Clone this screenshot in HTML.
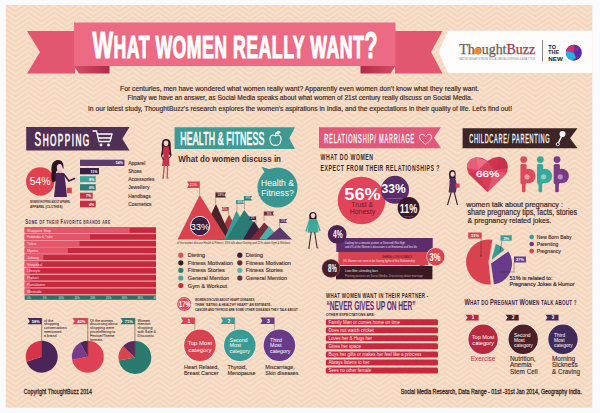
<!DOCTYPE html>
<html><head><meta charset="utf-8">
<style>
html,body{margin:0;padding:0;background:#f9fbfe;width:600px;height:413px;overflow:hidden}
svg{display:block}
text{font-family:"Liberation Sans",sans-serif}
.c{font-family:"Liberation Sans",sans-serif;font-weight:bold}
</style></head><body>
<svg width="600" height="413" viewBox="0 0 600 413">
<defs>
<pattern id="chev" x="2.5" y="5" width="26" height="5" patternUnits="userSpaceOnUse">
<rect width="26" height="5" fill="#f4d6be"/>
<polyline points="-13,9 0,0 13,9 26,0 39,9" fill="none" stroke="#f8e1cd" stroke-width="1.7"/>
<polyline points="-13,4 0,-5 13,4 26,-5 39,4" fill="none" stroke="#f8e1cd" stroke-width="1.7"/>
<polyline points="-13,14 0,5 13,14 26,5 39,14" fill="none" stroke="#f8e1cd" stroke-width="1.7"/>
</pattern>
</defs>
<rect x="0" y="0" width="600" height="413" fill="#f9fbfe"/>
<rect x="5.8" y="5" width="586.5" height="402.7" fill="url(#chev)"/>

<!-- TITLE BANNER -->
<polygon points="27,31 75,31 75,73.5 27,73.5 40,52" fill="#e3566f"/>
<polygon points="395,31 442.5,31 431,52 442.5,73.5 395,73.5" fill="#e3566f"/>
<linearGradient id="fl" x1="0" x2="1" y1="0" y2="0"><stop offset="0" stop-color="#d64d66"/><stop offset="1" stop-color="#b02c48"/></linearGradient><linearGradient id="fr" x1="1" x2="0" y1="0" y2="0"><stop offset="0" stop-color="#d64d66"/><stop offset="1" stop-color="#b02c48"/></linearGradient><polygon points="74,66 109.5,66 109.5,73.5 79,73.5" fill="url(#fl)"/>
<polygon points="395.5,66 360.5,66 360.5,73.5 390.5,73.5" fill="url(#fr)"/>
<rect x="74" y="22.5" width="321.5" height="43.5" fill="#ec6a83"/>
<text transform="scale(0.58,1)" x="159.48" y="57.9" class="c" fill="#fff" stroke="#fff" stroke-width="1.2" font-size="37.5" textLength="491.38" lengthAdjust="spacing">W<tspan font-size="30.5">HAT WOMEN REALLY WANT</tspan>?</text>

<!-- LOGO BOX -->
<polygon points="448,30.8 592.3,30.8 592.3,73 448,73 438.5,52" fill="#fefdfc"/>
<text x="459.2" y="54.2" style="font-family:'Liberation Serif',serif" font-size="13.6" fill="#6a5d55" stroke="#6a5d55" stroke-width="0.25" textLength="76" lengthAdjust="spacingAndGlyphs">Thought<tspan fill="#9a3a4a" stroke="#9a3a4a">Buzz</tspan></text>
<circle cx="477.4" cy="51.2" r="3.3" fill="#f08a2a"/>
<text x="459.2" y="60.3" font-size="2.7" fill="#8a8a90" textLength="76" lengthAdjust="spacingAndGlyphs">NATIVE <tspan fill="#5a8ac0">INSIGHTS FROM</tspan> SOCIAL MEDIA LISTENING &amp; ANALYTICS</text>
<rect x="542.2" y="40" width="0.8" height="21.3" fill="#666"/>
<text x="548.3" y="48.9" class="c" font-size="5.4" fill="#1a1a1a" textLength="7.8" lengthAdjust="spacingAndGlyphs">TO</text>
<text x="548.3" y="54.3" class="c" font-size="5.4" fill="#1a1a1a" textLength="10.8" lengthAdjust="spacingAndGlyphs">THE</text>
<text x="548.3" y="60.6" class="c" font-size="5.4" fill="#1a1a1a" textLength="14.6" lengthAdjust="spacingAndGlyphs">NEW</text>
<circle cx="573.8" cy="52.7" r="8" fill="#5a2aa8"/>
<path d="M573.8,52.7 L566,51 A8,8 0 0 1 574,44.7 Z" fill="#d2306e"/>
<path d="M573.8,52.7 L574,44.7 A8,8 0 0 1 580.5,48.5 Z" fill="#7a2aa0"/>
<path d="M573.8,52.7 L566,51 A8,8 0 0 0 572,60.5 L576,58 Z" fill="#22b2dc"/>
<!-- INTRO -->
<g font-size="7" fill="#3c2a28" stroke="#3c2a28" stroke-width="0.18">
<text x="120" y="91" textLength="359" lengthAdjust="spacingAndGlyphs">For centuries, men have wondered what women really want? Apparently even women don't know what they really want.</text>
<text x="127.5" y="100.3" textLength="345" lengthAdjust="spacingAndGlyphs">Finally we have an answer, as Social Media speaks about what women of 21st century really discuss on Social Media.</text>
<text x="88" y="111.4" textLength="424" lengthAdjust="spacingAndGlyphs">In our latest study, ThoughtBuzz's research explores the women's aspirations in India, and the expectations in their quality of life.  Let's find out!</text>
</g>

<!-- SECTION HEADERS -->
<polygon points="26.2,127.1 129.5,127.1 122.3,138.8 129.5,150.4 26.2,150.4" fill="#4f2f54"/>
<text transform="scale(0.5,1)" x="69.20" y="146.2" fill="#fff" stroke="#fff" stroke-width="0.7" font-size="20" textLength="109.20" lengthAdjust="spacing">S<tspan font-size="16.5">HOPPING</tspan></text>

<polygon points="174.6,127.3 295,127.3 289.3,138.2 295,149.1 174.6,149.1" fill="#3e9a93"/>
<text transform="scale(0.5,1)" x="360.60" y="144.6" fill="#fff" stroke="#fff" stroke-width="0.7" font-size="17.5" textLength="168.00" lengthAdjust="spacing">HEALTH &amp; FITNESS</text>

<polygon points="319,127.3 441,127.3 434,137.8 441,148.3 319,148.3" fill="#e0587a"/>
<text transform="scale(0.42,1)" x="772.14" y="142.7" fill="#fff" stroke="#fff" stroke-width="0.35" font-size="13.2" textLength="214.29" lengthAdjust="spacing">RELATIONSHIP/ MARRIAGE</text>

<polygon points="462.6,128.2 577.5,128.2 570,138.2 577.5,148.3 462.6,148.3" fill="#3d2426"/>
<text transform="scale(0.42,1)" x="1117.14" y="142.7" fill="#fff" stroke="#fff" stroke-width="0.35" font-size="13.2" textLength="191.43" lengthAdjust="spacing">CHILDCARE/ PARENTING</text>

<g stroke="#fff" stroke-width="1.3" fill="none" stroke-linecap="round" stroke-linejoin="round"><path d="M93,131 L96.5,131 L99,141.5 L110,141.5 L112,134 L97.5,134"/><path d="M98.5,138 L111,138"/></g>
<circle cx="101" cy="145" r="1.4" fill="#fff" />
<circle cx="108.5" cy="145" r="1.4" fill="#fff" />
<circle cx="40.2" cy="181.5" r="14.2" fill="#e1404f" />
<text x="40.2" y="185.3" font-size="10.5" fill="#fff" text-anchor="middle" >54%</text>
<path d="M58,160 C53,160 51,165 51.5,171 C51.5,176 51,180 52.5,182.5 L56,181 L56,172 L61,166 L63.5,169 C64,163 62,160 58,160 Z" fill="#2a1422"/>
<ellipse cx="59.6" cy="167.6" rx="2.8" ry="3.6" fill="#f2cccc"/>
<path d="M57.5,170.5 L62,170.5 L62.5,174 L57,174 Z" fill="#e8b0c0"/>
<path d="M55.5,173 L64,173 L65.5,183 L67,197 L54,197 L55.5,183 Z" fill="#4a2558"/>
<path d="M64,174.5 L69,181 L74.5,178.5" stroke="#3a1f42" stroke-width="1.6" fill="none" stroke-linecap="round"/>
<rect x="66.8" y="187.7" width="5" height="5.5" fill="#d9434f" />
<text x="30" y="203" font-size="3.3" fill="#3c2a28" textLength="40.4" lengthAdjust="spacingAndGlyphs" font-weight="bold" >WOMEN SHOPPING ABOUT APPAREL</text>
<text x="30" y="207.6" font-size="3.3" fill="#3c2a28" textLength="32.6" lengthAdjust="spacingAndGlyphs" font-weight="bold" >APPAREL (CLOTHES)</text>
<rect x="80" y="159.7" width="44.5" height="6.3" fill="#5d3d6e" />
<text x="123.0" y="164.4" font-size="3.6" fill="#fff" font-weight="bold" text-anchor="end" >54%</text>
<text x="128.2" y="164.8" font-size="5.6" fill="#3c2a28" textLength="17.3" lengthAdjust="spacingAndGlyphs" stroke="#3c2a28" stroke-width="0.12">Apparel</text>
<rect x="80" y="168" width="19" height="6.3" fill="#3a1f42" />
<text x="97.5" y="172.70000000000002" font-size="3.6" fill="#fff" font-weight="bold" text-anchor="end" >11%</text>
<text x="128.2" y="173.10000000000002" font-size="5.6" fill="#3c2a28" textLength="13.5" lengthAdjust="spacingAndGlyphs" stroke="#3c2a28" stroke-width="0.12">Shoes</text>
<rect x="80" y="176.2" width="15.700000000000003" height="6" fill="#3fa39b" />
<text x="94.2" y="180.6" font-size="3.6" fill="#fff" font-weight="bold" text-anchor="end" >8%</text>
<text x="128.2" y="181.0" font-size="5.6" fill="#3c2a28" textLength="26.3" lengthAdjust="spacingAndGlyphs" stroke="#3c2a28" stroke-width="0.12">Accessories</text>
<rect x="80" y="184.2" width="15.700000000000003" height="6.3" fill="#2d7e7a" />
<text x="94.2" y="188.9" font-size="3.6" fill="#fff" font-weight="bold" text-anchor="end" >6%</text>
<text x="128.2" y="189.3" font-size="5.6" fill="#3c2a28" textLength="21.3" lengthAdjust="spacingAndGlyphs" stroke="#3c2a28" stroke-width="0.12">Jewellery</text>
<rect x="80" y="192.7" width="12.700000000000003" height="6" fill="#c43547" />
<text x="91.2" y="197.1" font-size="3.6" fill="#fff" font-weight="bold" text-anchor="end" >7%</text>
<text x="128.2" y="197.5" font-size="5.6" fill="#3c2a28" textLength="22.5" lengthAdjust="spacingAndGlyphs" stroke="#3c2a28" stroke-width="0.12">Handbags</text>
<rect x="80" y="200.7" width="15.700000000000003" height="6.6" fill="#c32f45" />
<text x="94.2" y="205.7" font-size="3.6" fill="#fff" font-weight="bold" text-anchor="end" >4%</text>
<text x="128.2" y="206.1" font-size="5.6" fill="#3c2a28" textLength="23.3" lengthAdjust="spacingAndGlyphs" stroke="#3c2a28" stroke-width="0.12">Cosmetics</text>
<text transform="scale(0.6,1)" x="42.17" y="224.2" font-size="7" fill="#4b2c50" textLength="141.67" lengthAdjust="spacing" font-weight="bold">S<tspan font-size="5.6">OME OF THEIR </tspan>F<tspan font-size="5.6">AVORITE BRANDS ARE</tspan></text>
<rect x="24.7" y="227.3" width="131.3" height="68" fill="#f3a2aa" />
<rect x="24.7" y="227.3" width="131.3" height="5.6" fill="#c4293e" />
<rect x="24.7" y="227.3" width="104.99999999999999" height="5.6" fill="#e5566a" />
<text x="27" y="231.5" font-size="3.6" fill="#fbe0e0" >Shoppers Stop</text>
<rect x="24.7" y="234.10000000000002" width="131.3" height="5.6" fill="#c4293e" />
<rect x="24.7" y="234.10000000000002" width="65.3" height="5.6" fill="#e5566a" />
<text x="27" y="238.3" font-size="3.6" fill="#fbe0e0" >Fabindia & Tulsi</text>
<rect x="24.7" y="240.9" width="131.3" height="5.6" fill="#c4293e" />
<rect x="24.7" y="240.9" width="54.8" height="5.6" fill="#e5566a" />
<text x="27" y="245.1" font-size="3.6" fill="#fbe0e0" >Tulsie</text>
<rect x="24.7" y="247.70000000000002" width="131.3" height="5.6" fill="#c4293e" />
<rect x="24.7" y="247.70000000000002" width="43.099999999999994" height="5.6" fill="#e5566a" />
<text x="27" y="251.9" font-size="3.6" fill="#fbe0e0" >Myntra</text>
<rect x="24.7" y="254.5" width="131.3" height="5.6" fill="#c4293e" />
<rect x="24.7" y="254.5" width="18.599999999999998" height="5.6" fill="#e5566a" />
<text x="27" y="258.7" font-size="3.6" fill="#fbe0e0" >Jabong</text>
<rect x="24.7" y="261.3" width="131.3" height="5.6" fill="#c4293e" />
<rect x="24.7" y="261.3" width="14.000000000000004" height="5.6" fill="#e5566a" />
<text x="27" y="265.5" font-size="3.6" fill="#fbe0e0" >Snapdeal</text>
<rect x="24.7" y="268.1" width="131.3" height="5.6" fill="#c4293e" />
<rect x="24.7" y="268.1" width="5.300000000000001" height="5.6" fill="#e5566a" />
<text x="27" y="272.3" font-size="3.6" fill="#fbe0e0" >Lifestyle</text>
<rect x="24.7" y="274.90000000000003" width="131.3" height="5.6" fill="#c4293e" />
<rect x="24.7" y="274.90000000000003" width="5.300000000000001" height="5.6" fill="#e5566a" />
<text x="27" y="279.1" font-size="3.6" fill="#fbe0e0" >Flipkart</text>
<rect x="24.7" y="281.7" width="131.3" height="5.6" fill="#c4293e" />
<rect x="24.7" y="281.7" width="5.300000000000001" height="5.6" fill="#e5566a" />
<text x="27" y="285.9" font-size="3.6" fill="#fbe0e0" >Pantaloons</text>
<rect x="24.7" y="288.5" width="131.3" height="5.6" fill="#c4293e" />
<rect x="24.7" y="288.5" width="5.300000000000001" height="5.6" fill="#e5566a" />
<text x="27" y="292.7" font-size="3.6" fill="#fbe0e0" >Westside</text>
<rect x="24.7" y="295.3" width="131.3" height="4.5" fill="#2f6e64" />
<text x="27.0" y="298.6" font-size="2.6" fill="#cfe" >0%</text>
<text x="42.8" y="298.6" font-size="2.6" fill="#cfe" >5%</text>
<text x="58.6" y="298.6" font-size="2.6" fill="#cfe" >10%</text>
<text x="74.4" y="298.6" font-size="2.6" fill="#cfe" >15%</text>
<text x="90.2" y="298.6" font-size="2.6" fill="#cfe" >20%</text>
<text x="106.0" y="298.6" font-size="2.6" fill="#cfe" >25%</text>
<text x="121.80000000000001" y="298.6" font-size="2.6" fill="#cfe" >30%</text>
<text x="137.60000000000002" y="298.6" font-size="2.6" fill="#cfe" >35%</text>
<text x="153.4" y="298.6" font-size="2.6" fill="#cfe" >40%</text>
<path d="M41.7,356.7 L41.70,340.70 A16,16 0 1 1 26.48,361.64 Z" fill="#4b2558"/>
<path d="M41.7,356.7 L26.48,361.64 A16,16 0 0 1 41.70,340.70 Z" fill="#d43548"/>
<line x1="41.7" y1="356.7" x2="41.7" y2="318" stroke="#3c2a28" stroke-width="0.5"/>
<polygon points="27.6,318 41.7,318 41.7,324.3 27.6,324.3 29.805,321.15" fill="#4b2558" />
<text x="35.752500000000005" y="322.914" font-size="4" fill="#fff" font-weight="bold" text-anchor="middle" >58%</text>
<text x="44" y="321.6" font-size="3.7" fill="#3c2a28" stroke="#3c2a28" stroke-width="0.06">of the</text>
<text x="44" y="325.40000000000003" font-size="3.7" fill="#3c2a28" stroke="#3c2a28" stroke-width="0.06">shopping</text>
<text x="44" y="329.20000000000005" font-size="3.7" fill="#3c2a28" stroke="#3c2a28" stroke-width="0.06">conversations</text>
<text x="44" y="333.0" font-size="3.7" fill="#3c2a28" stroke="#3c2a28" stroke-width="0.06">mentioned</text>
<text x="44" y="336.8" font-size="3.7" fill="#3c2a28" stroke="#3c2a28" stroke-width="0.06">a brand</text>
<path d="M87.8,356.7 L87.80,340.70 A16,16 0 1 1 72.08,359.70 Z" fill="#e04055"/>
<path d="M87.8,356.7 L72.08,359.70 A16,16 0 0 1 80.09,342.68 Z" fill="#7a3a8a"/>
<path d="M87.8,356.7 L80.09,342.68 A16,16 0 0 1 87.80,340.70 Z" fill="#4b2558"/>
<line x1="87.8" y1="356.7" x2="87.8" y2="318" stroke="#3c2a28" stroke-width="0.5"/>
<polygon points="72.5,318 87.8,318 87.8,324.3 72.5,324.3 74.705,321.15" fill="#d9434f" />
<text x="81.25250000000001" y="322.914" font-size="4" fill="#fff" font-weight="bold" text-anchor="middle" >40%</text>
<text x="90" y="321.6" font-size="3.7" fill="#3c2a28" stroke="#3c2a28" stroke-width="0.06">Of the women</text>
<text x="90" y="325.40000000000003" font-size="3.7" fill="#3c2a28" stroke="#3c2a28" stroke-width="0.06">discussing about</text>
<text x="90" y="329.20000000000005" font-size="3.7" fill="#3c2a28" stroke="#3c2a28" stroke-width="0.06">shopping were</text>
<text x="90" y="333.0" font-size="3.7" fill="#3c2a28" stroke="#3c2a28" stroke-width="0.06">price/offering to</text>
<text x="90" y="336.8" font-size="3.7" fill="#3c2a28" stroke="#3c2a28" stroke-width="0.06">Festive/Theme</text>
<text x="90" y="340.6" font-size="3.7" fill="#3c2a28" stroke="#3c2a28" stroke-width="0.06">formats</text>
<path d="M134.9,357.5 L134.90,341.10 A16.4,16.4 0 1 1 118.79,360.57 Z" fill="#2b7a70"/>
<path d="M134.9,357.5 L118.79,360.57 A16.4,16.4 0 0 1 122.94,346.27 Z" fill="#d9434f"/>
<path d="M134.9,357.5 L122.94,346.27 A16.4,16.4 0 0 1 134.90,341.10 Z" fill="#5a2a5a"/>
<line x1="134.9" y1="357.5" x2="134.9" y2="318" stroke="#3c2a28" stroke-width="0.5"/>
<polygon points="120.5,318 134.9,318 134.9,324.3 120.5,324.3 122.705,321.15" fill="#2b7a70" />
<text x="128.8025" y="322.914" font-size="4" fill="#fff" font-weight="bold" text-anchor="middle" >71%</text>
<text x="137.5" y="321.6" font-size="3.7" fill="#3c2a28" stroke="#3c2a28" stroke-width="0.06">Women</text>
<text x="137.5" y="325.40000000000003" font-size="3.7" fill="#3c2a28" stroke="#3c2a28" stroke-width="0.06">mention</text>
<text x="137.5" y="329.20000000000005" font-size="3.7" fill="#3c2a28" stroke="#3c2a28" stroke-width="0.06">shopping</text>
<text x="137.5" y="333.0" font-size="3.7" fill="#3c2a28" stroke="#3c2a28" stroke-width="0.06">with Sale &amp;</text>
<text x="137.5" y="336.8" font-size="3.7" fill="#3c2a28" stroke="#3c2a28" stroke-width="0.06">Discounts</text>
<text x="23.7" y="394.3" font-size="6.5" fill="#3c2a28" textLength="68.3" lengthAdjust="spacingAndGlyphs" stroke="#3c2a28" stroke-width="0.28">Copyright ThoughtBuzz 2014</text>
<g stroke="#fff" stroke-width="1.1" fill="none"><path d="M275.5,136 C272,133.5 269.5,136 270,140 C270.5,144 273,146 275.5,145 C278,146 280.5,144 281,140 C281.5,136 279,133.5 275.5,136 Z"/><path d="M275.5,136 L276,132.5"/><path d="M276,133 C277.5,131 279.5,131.5 280,132.5 C278.5,133.5 277,133.5 276,133 Z" fill="#fff"/></g>
<path d="M166,139 C161.5,139 161.5,144 162,149 L161.5,156 L164,153 L168,153 L171,156 C170.5,150 171,146 170.5,142.5 C170,140 168.5,139 166,139 Z" fill="#2a1520"/>
<ellipse cx="166" cy="143.2" rx="2.3" ry="2.8" fill="#f5d4cc"/>
<path d="M163,146.5 L169.2,146.5 L170,151 L168.7,155 L169.5,166 L162,166 L163.5,155 L162.2,151 Z" fill="#c8304a"/>
<path d="M163,147 L161.5,156 L163.5,160 M169.2,147 L171.2,155 L169,158.5" stroke="#2a1520" stroke-width="1" fill="none"/>
<path d="M164.3,165 L163.2,177.5 M167.6,165 L167.2,177.5" stroke="#d45060" stroke-width="1.4" fill="none"/>
<path d="M162,178 L164,178 M166.5,178 L168.5,178" stroke="#c03048" stroke-width="1" fill="none"/>
<text x="178.3" y="162.3" font-size="9.2" fill="#4a2a2a" textLength="102.7" lengthAdjust="spacingAndGlyphs" font-weight="bold" >What do women discuss in</text>
<polygon points="261.5,166.8 266,175 272,170" fill="#3a9690" />
<circle cx="277.5" cy="187.5" r="20" fill="#3a9690" />
<text x="277.5" y="185.5" font-size="8.6" fill="#fff" text-anchor="middle" >Health &amp;</text>
<text x="277.5" y="195.5" font-size="8.6" fill="#fff" text-anchor="middle" >Fitness?</text>
<polygon points="217,239.6 229,214.4 242,239.6" fill="#b5303f" />
<polygon points="199,239.6 216,204 232,239.6" fill="#4a2328" />
<polygon points="177.5,239.6 199.7,195 227.5,239.6" fill="#d9434f" />
<polygon points="224,239.6 236.5,210.5 252,239.6" fill="#3a9a94" />
<polygon points="226,239.6 244.3,210 266,239.6" fill="#2a7a75" />
<polygon points="243,239.6 254,221 266,239.6" fill="#3a2040" />
<polygon points="250,239.6 264.3,222.6 281,239.6" fill="#7a2a3a" />
<polygon points="259,239.6 269,226 279,239.6" fill="#4ab0aa" />
<polygon points="266,239.6 279.8,227.3 292,239.6" fill="#5a3a6a" />
<line x1="199.6" y1="181.5" x2="199.6" y2="195" stroke="#5a4a4a" stroke-width="0.4"/>
<polygon points="187,181.5 199.6,181.5 199.6,188.0 187,188.0 188.95,184.75" fill="#d9434f" />
<text x="193.3" y="186.375" font-size="3.5" fill="#fff" text-anchor="middle" >22%</text>
<line x1="215.6" y1="192.4" x2="215.6" y2="204" stroke="#5a4a4a" stroke-width="0.4"/>
<polygon points="215.6,192.4 226.0,192.4 224.5,194.9 226.0,197.4 215.6,197.4" fill="#4a2328" />
<text x="220.79999999999998" y="196.15" font-size="3.5" fill="#fff" text-anchor="middle" >18%</text>
<line x1="228.4" y1="207" x2="228.4" y2="214.4" stroke="#5a4a4a" stroke-width="0.4"/>
<polygon points="221.6,207 228.4,207 228.4,210.8 221.6,210.8 222.73999999999998,208.9" fill="#b5303f" />
<text x="225.0" y="209.85" font-size="3.04" fill="#fff" text-anchor="middle" >5%</text>
<line x1="237" y1="200" x2="237" y2="211" stroke="#5a4a4a" stroke-width="0.4"/>
<polygon points="236,200 244,200 242.8,202.0 244,204 236,204" fill="#3a9a94" />
<text x="240.0" y="203.0" font-size="3.2" fill="#fff" text-anchor="middle" >6%</text>
<line x1="244.4" y1="196" x2="244.4" y2="209" stroke="#5a4a4a" stroke-width="0.4"/>
<polygon points="244,196 252,196 250.68,198.2 252,200.4 244,200.4" fill="#2a7a75" />
<text x="248.0" y="199.3" font-size="3.5" fill="#fff" text-anchor="middle" >9%</text>
<line x1="256" y1="216.4" x2="256" y2="225" stroke="#5a4a4a" stroke-width="0.4"/>
<polygon points="249,216.4 256,216.4 256,220.0 249,220.0 250.08,218.20000000000002" fill="#3a2040" />
<text x="252.5" y="219.1" font-size="2.8800000000000003" fill="#fff" text-anchor="middle" >2%</text>
<line x1="264" y1="211.6" x2="264" y2="221" stroke="#5a4a4a" stroke-width="0.4"/>
<polygon points="264,211.6 274,211.6 272.8,213.6 274,215.6 264,215.6" fill="#7a2a3a" />
<text x="269.0" y="214.6" font-size="3.2" fill="#fff" text-anchor="middle" >3%</text>
<line x1="279.6" y1="219" x2="279.6" y2="227" stroke="#5a4a4a" stroke-width="0.4"/>
<polygon points="279.6,219 287.0,219 285.8,221.0 287.0,223 279.6,223" fill="#5a3a6a" />
<text x="283.3" y="222.0" font-size="3.2" fill="#fff" text-anchor="middle" >1%</text>
<circle cx="200" cy="226" r="10" fill="#fff" />
<circle cx="200" cy="226" r="9.2" fill="#3a1f3f" />
<text x="200" y="229.6" font-size="9.5" fill="#fff" text-anchor="middle" >33%</text>
<text x="177" y="243.6" font-size="2.9" fill="#3c2a28" textLength="113" lengthAdjust="spacingAndGlyphs" >of the women discuss Health &amp; Fitness, 33% talk about Dieting and 22% about Gym &amp; Workout</text>
<circle cx="180.8" cy="255.2" r="2.6" fill="#d9525a" />
<text x="187.8" y="257.2" font-size="5.6" fill="#3c2a28" stroke="#3c2a28" stroke-width="0.12">Dieting</text>
<circle cx="180.8" cy="262.8" r="2.6" fill="#3a1f1f" />
<text x="187.8" y="264.8" font-size="5.6" fill="#3c2a28" stroke="#3c2a28" stroke-width="0.12">Fitness Motivation</text>
<circle cx="180.8" cy="270.3" r="2.6" fill="#2f7a72" />
<text x="187.8" y="272.3" font-size="5.6" fill="#3c2a28" stroke="#3c2a28" stroke-width="0.12">Fitness Stories</text>
<circle cx="180.8" cy="278" r="2.6" fill="#4aa89a" />
<text x="187.8" y="280" font-size="5.6" fill="#3c2a28" stroke="#3c2a28" stroke-width="0.12">General Mention</text>
<circle cx="180.8" cy="285.5" r="2.6" fill="#c8303f" />
<text x="187.8" y="287.5" font-size="5.6" fill="#3c2a28" stroke="#3c2a28" stroke-width="0.12">Gym &amp; Workout</text>
<circle cx="239.8" cy="255.2" r="2.6" fill="#3a2030" />
<text x="245.8" y="257.2" font-size="5.6" fill="#3c2a28" stroke="#3c2a28" stroke-width="0.12">Dieting</text>
<circle cx="239.8" cy="262.8" r="2.6" fill="#6a2a3a" />
<text x="245.8" y="264.8" font-size="5.6" fill="#3c2a28" stroke="#3c2a28" stroke-width="0.12">Fitness Motivation</text>
<circle cx="239.8" cy="270.3" r="2.6" fill="#5ab8b0" />
<text x="245.8" y="272.3" font-size="5.6" fill="#3c2a28" stroke="#3c2a28" stroke-width="0.12">Fitness Stories</text>
<circle cx="239.8" cy="278" r="2.6" fill="#5a3a4a" />
<text x="245.8" y="280" font-size="5.6" fill="#3c2a28" stroke="#3c2a28" stroke-width="0.12">General Mention</text>
<circle cx="184.2" cy="304" r="7" fill="#d9434f" />
<circle cx="184.2" cy="304" r="5.6" fill="none" stroke="#f5c8c8" stroke-width="0.5"/>
<text x="184.8" y="307.4" font-size="9.5" fill="#fff" textLength="11.5" lengthAdjust="spacingAndGlyphs" font-weight="bold" text-anchor="middle" >17%</text>
<text x="195" y="300.8" font-size="4.4" fill="#3c2a28" textLength="60" lengthAdjust="spacingAndGlyphs" font-weight="bold" >WOMEN DISCUSS ABOUT HEART DISEASES,</text>
<text x="195" y="305.8" font-size="4.4" fill="#3c2a28" textLength="77" lengthAdjust="spacingAndGlyphs" font-weight="bold" >THINK 'EATING A HEALTHY HEART' AN ESTIMATE..</text>
<text x="195" y="311.3" font-size="4.4" fill="#3c2a28" textLength="102.8" lengthAdjust="spacingAndGlyphs" font-weight="bold" >CANCER AND THYROID ARE SOME OTHER DISEASES THEY TALK ABOUT</text>
<line x1="194.8" y1="317.6" x2="194.8" y2="332" stroke="#5a4a4a" stroke-width="0.4"/>
<polygon points="180.8,317.6 194.8,317.6 194.8,324.0 180.8,324.0 183.04000000000002,320.8" fill="#d9434f" />
<text x="188.92000000000002" y="322.59200000000004" font-size="5" fill="#fff" font-weight="bold" text-anchor="middle" >1</text>
<circle cx="199.9" cy="345.3" r="16.5" fill="#f7ece4" />
<circle cx="199.9" cy="345.3" r="15.8" fill="#d9434f" />
<text x="199.9" y="344.8" font-size="6" fill="#fff" text-anchor="middle" >Top Most</text>
<text x="199.9" y="351.8" font-size="6" fill="#fff" text-anchor="middle" >category</text>
<text x="184" y="369" font-size="5.4" fill="#3c2a28" stroke="#3c2a28" stroke-width="0.1">Heart Related,</text>
<text x="184" y="375" font-size="5.4" fill="#3c2a28" stroke="#3c2a28" stroke-width="0.1">Breast Cancer</text>
<line x1="234.70000000000002" y1="317.6" x2="234.70000000000002" y2="332" stroke="#5a4a4a" stroke-width="0.4"/>
<polygon points="220.70000000000002,317.6 234.70000000000002,317.6 234.70000000000002,324.0 220.70000000000002,324.0 222.94000000000003,320.8" fill="#3a9a94" />
<text x="228.82000000000002" y="322.59200000000004" font-size="5" fill="#fff" font-weight="bold" text-anchor="middle" >2</text>
<circle cx="239.8" cy="345.3" r="16.5" fill="#f7ece4" />
<circle cx="239.8" cy="345.3" r="15.8" fill="#3a9a94" />
<text x="229.6" y="342.2" font-size="5.3" fill="#fff" >Second</text>
<text x="229.6" y="347.4" font-size="5.3" fill="#fff" >Most</text>
<text x="229.6" y="352.59999999999997" font-size="5.3" fill="#fff" >category</text>
<text x="227.4" y="369" font-size="5.4" fill="#3c2a28" stroke="#3c2a28" stroke-width="0.1">Thyroid,</text>
<text x="227.4" y="375" font-size="5.4" fill="#3c2a28" stroke="#3c2a28" stroke-width="0.1">Menopause</text>
<line x1="274.29999999999995" y1="317.6" x2="274.29999999999995" y2="332" stroke="#5a4a4a" stroke-width="0.4"/>
<polygon points="260.29999999999995,317.6 274.29999999999995,317.6 274.29999999999995,324.0 260.29999999999995,324.0 262.53999999999996,320.8" fill="#6a3a8a" />
<text x="268.41999999999996" y="322.59200000000004" font-size="5" fill="#fff" font-weight="bold" text-anchor="middle" >3</text>
<circle cx="279.4" cy="345.3" r="16.5" fill="#f7ece4" />
<circle cx="279.4" cy="345.3" r="15.8" fill="#6a3a8a" />
<text x="270" y="342.2" font-size="5.3" fill="#fff" >Third</text>
<text x="270" y="347.4" font-size="5.3" fill="#fff" >Most</text>
<text x="270" y="352.59999999999997" font-size="5.3" fill="#fff" >category</text>
<text x="265.3" y="369" font-size="5.4" fill="#3c2a28" stroke="#3c2a28" stroke-width="0.1">Miscarriage,</text>
<text x="265.3" y="375" font-size="5.4" fill="#3c2a28" stroke="#3c2a28" stroke-width="0.1">Skin diseases</text>
<path d="M425.5,136.5 C423,133 419,134 419.5,137.5 C420,140.5 423.5,142.5 425.5,144.5 C427.5,142.5 431,140.5 431.5,137.5 C432,134 428,133 425.5,136.5 Z" stroke="#fff" stroke-width="0.9" fill="none"/>
<text transform="scale(0.6,1)" x="534.17" y="159.6" font-size="8.6" fill="#3a2a2a" textLength="87.50" lengthAdjust="spacing" font-weight="bold">WHAT DO WOMEN</text>
<text transform="scale(0.6,1)" x="534.17" y="170.8" font-size="8.6" fill="#3a2a2a" textLength="198.33" lengthAdjust="spacing" font-weight="bold">EXPECT FROM THEIR RELATIONSHIPS ?</text>
<circle cx="361.5" cy="200.5" r="23.8" fill="#e3435a" />
<text x="362.5" y="199.9" font-size="17" fill="#fff" textLength="36.5" lengthAdjust="spacingAndGlyphs" font-weight="bold" text-anchor="middle" >56%</text>
<text x="362.2" y="207" font-size="7" fill="#6a1a2a" textLength="22" lengthAdjust="spacingAndGlyphs" text-anchor="middle" >Trust &amp;</text>
<text x="362.5" y="213.6" font-size="7" fill="#6a1a2a" textLength="25.6" lengthAdjust="spacingAndGlyphs" text-anchor="middle" >Honesty</text>
<circle cx="395" cy="189.8" r="14" fill="#5a2d6a" />
<text x="393.6" y="193.3" font-size="12.5" fill="#fff" textLength="24.2" lengthAdjust="spacingAndGlyphs" font-weight="bold" text-anchor="middle" >33%</text>
<text x="395" y="199" font-size="2.5" fill="#c89ac8" text-anchor="middle" >Communication</text>
<circle cx="408.6" cy="208" r="11" fill="#3a1a2a" />
<text x="408.5" y="213.2" font-size="12.5" fill="#fff" textLength="17.5" lengthAdjust="spacingAndGlyphs" font-weight="bold" text-anchor="middle" >11%</text>
<text x="408.6" y="216.5" font-size="2.3" fill="#b08a9a" text-anchor="middle" >Respect</text>
<path d="M309.2,216 C308.8,210.5 316.8,210.5 316.6,216 L316.3,219.5 L309.5,219.5 Z" fill="#2a1520"/>
<ellipse cx="313" cy="215.6" rx="2.2" ry="2.6" fill="#f5d4cc"/>
<path d="M309.6,219 L316.4,219 L318.6,232.5 L307.4,232.5 Z" fill="#3aa89a"/>
<path d="M309.6,220 L306,231.5 M316.4,220 L320,231" stroke="#3aa89a" stroke-width="1.4" fill="none"/>
<path d="M311.2,232 L309,247.5 M314.6,232 L317,247" stroke="#3a2a30" stroke-width="1.1" fill="none"/>
<path d="M308,248 L310,248 M316.5,247.5 L318.5,248" stroke="#3a2a30" stroke-width="1" fill="none"/>
<path d="M449,174.5 C448.5,168.5 456,168.5 455.7,174 L455.3,181 L449.8,182 Z" fill="#2a1520"/>
<ellipse cx="452.6" cy="174.2" rx="2.1" ry="2.6" fill="#f5d4cc"/>
<path d="M449.8,178 L455.5,178 L457,186 L455.8,192.5 L448.6,192.5 L449.3,186 Z" fill="#5a2f66"/>
<path d="M449.8,179 L446.2,186.5 L444.6,188.5 M455.5,179 L458,183 L460.6,180.5" stroke="#f0c8c0" stroke-width="0.9" fill="none"/>
<rect x="455.6" y="183.5" width="4" height="4.2" fill="#d9434f" />
<path d="M451.3,192 L447.5,205 M454.2,192 L457.5,205" stroke="#3a2a30" stroke-width="1.1" fill="none"/>
<rect x="336.3" y="238" width="96.4" height="14" fill="#5b2d6b" />
<polygon points="343,251.5 349,251.5 345,255.5" fill="#5b2d6b" />
<text x="345" y="243.8" font-size="2.7" fill="#f0e0f0" textLength="60" lengthAdjust="spacingAndGlyphs" >Looking for a romantic partner or Divorced/ Rita Nigh</text>
<text x="345" y="248.3" font-size="2.7" fill="#f0e0f0" textLength="72" lengthAdjust="spacingAndGlyphs" >and 4% of the Women&#39;s discussion is on Emotional and Sex life</text>
<rect x="338.4" y="252" width="89.9" height="13" fill="#d9434f" />
<polygon points="419,264.8 425,264.8 422.2,269.5" fill="#d9434f" />
<text x="412" y="258" font-size="3" fill="#3a1a24" textLength="30" lengthAdjust="spacingAndGlyphs" text-anchor="end" >SHARING LOVE/ ROMANCE</text>
<text x="343" y="262" font-size="2.7" fill="#f8e0e0" textLength="72" lengthAdjust="spacingAndGlyphs" >3% Women are seen to be having fights of the Relationship</text>
<circle cx="337.2" cy="234.4" r="9.4" fill="#4f2255" />
<text x="337.9" y="238" font-size="10" fill="#fff" textLength="9.6" lengthAdjust="spacingAndGlyphs" font-weight="bold" text-anchor="middle" >4%</text>
<rect x="336" y="266" width="96.4" height="13.3" fill="#3a1a24" />
<text x="345" y="272.2" font-size="3" fill="#f0e0e0" textLength="33" lengthAdjust="spacingAndGlyphs" >Love Bite; attending bars</text>
<text x="345" y="277" font-size="2.7" fill="#c0a0a8" textLength="78" lengthAdjust="spacingAndGlyphs" >Posting pictures on Social Media, Discussing about marriage</text>
<circle cx="435.7" cy="256.7" r="9.4" fill="#f5c9c4" />
<circle cx="435.7" cy="256.7" r="8.7" fill="#d9434f" />
<text x="434.9" y="260.8" font-size="10" fill="#fff" textLength="11" lengthAdjust="spacingAndGlyphs" font-weight="bold" text-anchor="middle" >3%</text>
<circle cx="331" cy="268.4" r="9.3" fill="#8a5a5a" />
<circle cx="331" cy="268.4" r="8.6" fill="#4a1e26" />
<text x="332.4" y="272.4" font-size="10" fill="#fff" textLength="8.8" lengthAdjust="spacingAndGlyphs" font-weight="bold" text-anchor="middle" >8%</text>
<text transform="scale(0.55,1)" x="592.73" y="298.4" font-size="8" fill="#3a2a2a" textLength="186.00" lengthAdjust="spacing" font-weight="bold">WHAT WOMEN WANT IN THEIR PARTNER -</text>
<text transform="scale(0.55,1)" x="593.64" y="310" font-size="12" fill="#5a2d7a" textLength="161.82" lengthAdjust="spacing" font-weight="bold">“NEVER GIVES UP ON HER”</text>
<text x="326" y="316" font-size="3.2" fill="#3a2a2a" textLength="49" lengthAdjust="spacingAndGlyphs" font-weight="bold" >OTHER EXPECTATIONS ARE:</text>
<rect x="325.8" y="319.2" width="112.2" height="6" fill="#c8283f" rx="1.5"/>
<text x="328.5" y="323.59999999999997" font-size="4.5" fill="#fce8e8" >Family Man or comes home on time</text>
<rect x="325.8" y="327.25" width="112.2" height="6" fill="#c8283f" rx="1.5"/>
<text x="328.5" y="331.65" font-size="4.5" fill="#fce8e8" >Does not watch cricket</text>
<rect x="325.8" y="335.3" width="112.2" height="6" fill="#c8283f" rx="1.5"/>
<text x="328.5" y="339.7" font-size="4.5" fill="#fce8e8" >Loves her &amp; Hugs her</text>
<rect x="325.8" y="343.34999999999997" width="112.2" height="6" fill="#c8283f" rx="1.5"/>
<text x="328.5" y="347.74999999999994" font-size="4.5" fill="#fce8e8" >Gives her space</text>
<rect x="325.8" y="351.4" width="112.2" height="6" fill="#c8283f" rx="1.5"/>
<text x="328.5" y="355.79999999999995" font-size="4.5" fill="#fce8e8" >Buys her gifts or makes her feel like a princess</text>
<rect x="325.8" y="359.45" width="112.2" height="6" fill="#c8283f" rx="1.5"/>
<text x="328.5" y="363.84999999999997" font-size="4.5" fill="#fce8e8" >Always listens to her</text>
<rect x="325.8" y="367.5" width="112.2" height="6" fill="#c8283f" rx="1.5"/>
<text x="328.5" y="371.9" font-size="4.5" fill="#fce8e8" >Sees no other female</text>
<g fill="#fff"><circle cx="562.5" cy="134" r="3"/><rect x="559.5" y="136" width="1.4" height="7" transform="rotate(25 560 139)"/><circle cx="557.8" cy="144.2" r="1.6" fill="none" stroke="#fff" stroke-width="0.9"/></g>
<polygon points="487.6,161 482,157.8 476,157.3 470.5,159.5 467.3,163.5 466.8,168 468.5,173.5 487.6,192 506.5,173.5 507.8,168 507,162.5 504,158.5 499.3,156.8 493,157.8" fill="#d9405a" />
<polygon points="476,157.3 470.5,159.5 467.3,163.5 466.8,168 478,170" fill="#e65f78" />
<polygon points="476,157.3 487.6,161 478,170" fill="#ea6f86" />
<polygon points="487.6,161 499.3,156.8 494,170" fill="#d03550" />
<polygon points="499.3,156.8 504,158.5 507,162.5 507.8,168 494,170" fill="#c8304c" />
<polygon points="468.5,173.5 478,170 487.6,192" fill="#cf3852" />
<polygon points="494,170 506.5,173.5 487.6,192" fill="#e25670" />
<polygon points="478,170 494,170 487.6,192" fill="#d4405a" />
<text x="487.6" y="176.6" font-size="9.8" fill="#fff" textLength="23.4" lengthAdjust="spacingAndGlyphs" text-anchor="middle" stroke="#fff" stroke-width="0.3">66%</text>
<circle cx="523.7" cy="159.6" r="3.4" fill="#dc4b5c" />
<rect x="520.4000000000001" y="164" width="6.2" height="20" fill="#dc4b5c" rx="1.5"/>
<rect x="521.9000000000001" y="183" width="3.6" height="9.3" fill="#dc4b5c" rx="1.2"/>
<circle cx="528.3000000000001" cy="176" r="7.3" fill="#dc4b5c" />
<circle cx="527.0" cy="176.8" r="2.6" fill="#ffffff" fill-opacity="0.45"/>
<circle cx="540.3" cy="159.6" r="3.4" fill="#3aa89a" />
<rect x="537.0" y="164" width="6.2" height="20" fill="#3aa89a" rx="1.5"/>
<rect x="538.5" y="183" width="3.6" height="9.3" fill="#3aa89a" rx="1.2"/>
<circle cx="544.9" cy="176" r="7.3" fill="#3aa89a" />
<circle cx="543.5999999999999" cy="176.8" r="2.6" fill="#ffffff" fill-opacity="0.45"/>
<circle cx="557" cy="159.6" r="3.4" fill="#7a3a8a" />
<rect x="553.7" y="164" width="6.2" height="20" fill="#7a3a8a" rx="1.5"/>
<rect x="555.2" y="183" width="3.6" height="9.3" fill="#7a3a8a" rx="1.2"/>
<circle cx="561.6" cy="176" r="7.3" fill="#7a3a8a" />
<circle cx="560.3" cy="176.8" r="2.6" fill="#ffffff" fill-opacity="0.45"/>
<text x="466.3" y="207" font-size="7" fill="#3a2a2a" textLength="96.7" lengthAdjust="spacingAndGlyphs" stroke="#3a2a2a" stroke-width="0.2">women talk about pregnancy :</text>
<text x="467.5" y="215.2" font-size="8.3" fill="#3a2a2a" textLength="109.5" lengthAdjust="spacingAndGlyphs" stroke="#3a2a2a" stroke-width="0.2">share pregnancy tips, facts, stories</text>
<text x="467.5" y="222.8" font-size="7.6" fill="#3a2a2a" textLength="84" lengthAdjust="spacingAndGlyphs" stroke="#3a2a2a" stroke-width="0.2">&amp; pregnancy related jokes.</text>
<path d="M488.5,262 L490.85,284.38 A22.5,22.5 0 1 1 492.41,239.84 Z" fill="#d9434f"/>
<path d="M491.5,260 L495.77,244.06 A16.5,16.5 0 0 1 504.50,249.84 Z" fill="#3a9a94"/>
<path d="M491,263.5 L508.20,251.45 A21,21 0 0 1 493.92,284.30 Z" fill="#6a3a8a"/>
<line x1="481" y1="238" x2="481" y2="256" stroke="#3a2a2a" stroke-width="0.4"/>
<circle cx="481" cy="256" r="0.7" fill="#3a2a2a" />
<line x1="502" y1="240.7" x2="500" y2="252" stroke="#3a2a2a" stroke-width="0.4"/>
<path d="M514,262.5 L514,272 L500,272" stroke="#3a2a2a" stroke-width="0.4" fill="none"/>
<polygon points="468.2,232.5 481.7,232.5 481.7,238.5 468.2,238.5 468.2,235.5" fill="#d9434f" />
<text x="474.95" y="237.18" font-size="4" fill="#fff" font-weight="bold" text-anchor="middle" >51%</text>
<polygon points="500.5,235.3 511.7,235.3 511.7,240.70000000000002 500.5,240.70000000000002 500.5,238.0" fill="#3a9a94" />
<text x="506.1" y="239.512" font-size="4" fill="#fff" font-weight="bold" text-anchor="middle" >3%</text>
<polygon points="514,256.5 526,256.5 526,262.5 514,262.5 514,259.5" fill="#6a3a8a" />
<text x="520.0" y="261.18" font-size="4" fill="#fff" font-weight="bold" text-anchor="middle" >27%</text>
<circle cx="531.7" cy="237" r="2.3" fill="#3a9a94" />
<text x="536.8" y="238.8" font-size="5" fill="#3a2a2a" stroke="#3a2a2a" stroke-width="0.12">New Born Baby</text>
<circle cx="531.7" cy="244" r="2.3" fill="#6a3a8a" />
<text x="536.8" y="245.8" font-size="5" fill="#3a2a2a" stroke="#3a2a2a" stroke-width="0.12">Parenting</text>
<circle cx="531.7" cy="251" r="2.3" fill="#d9434f" />
<text x="536.8" y="252.8" font-size="5" fill="#3a2a2a" stroke="#3a2a2a" stroke-width="0.12">Pregnancy</text>
<text x="509.5" y="279.8" font-size="6" fill="#3a2a2a" textLength="43" lengthAdjust="spacingAndGlyphs" stroke="#3a2a2a" stroke-width="0.2">51% is related to:</text>
<text x="509.5" y="286.4" font-size="6" fill="#3a2a2a" textLength="65" lengthAdjust="spacingAndGlyphs" stroke="#3a2a2a" stroke-width="0.2">Pregnancy Jokes &amp; Humor</text>
<text transform="scale(0.6,1)" x="774.17" y="304.6" font-size="9.4" fill="#40244a" textLength="186.67" lengthAdjust="spacing" font-weight="bold">W<tspan font-size="7.6">HAT DO </tspan>P<tspan font-size="7.6">REGNANT </tspan>W<tspan font-size="7.6">OMEN TALK ABOUT ?</tspan></text>
<polygon points="465.6,314.8 478.6,314.8 478.6,320.40000000000003 465.6,320.40000000000003 467.56,317.6" fill="#b8283f" />
<text x="473.08000000000004" y="319.168" font-size="4.5" fill="#fff" font-weight="bold" text-anchor="middle" >1</text>
<circle cx="483.1" cy="339.3" r="15.3" fill="#f7ece4" />
<circle cx="483.1" cy="339.3" r="14.7" fill="#b8283f" />
<text x="483.1" y="338.5" font-size="5.6" fill="#fff" text-anchor="middle" >Top Most</text>
<text x="483.1" y="344.9" font-size="5.6" fill="#fff" text-anchor="middle" >category</text>
<text x="483.1" y="360.8" font-size="6.4" fill="#c8283f" text-anchor="middle" >Exercise</text>
<polygon points="505.70000000000005,314.8 518.7,314.8 518.7,320.40000000000003 505.70000000000005,320.40000000000003 507.66,317.6" fill="#4a1f28" />
<text x="513.1800000000001" y="319.168" font-size="4.5" fill="#fff" font-weight="bold" text-anchor="middle" >2</text>
<circle cx="523.2" cy="339.3" r="15.3" fill="#f7ece4" />
<circle cx="523.2" cy="339.3" r="14.7" fill="#4a1f28" />
<text x="514" y="336.8" font-size="4.9" fill="#fff" >Second</text>
<text x="514" y="341.7" font-size="4.9" fill="#fff" >Most</text>
<text x="514" y="346.6" font-size="4.9" fill="#fff" >category</text>
<text x="510" y="360.8" font-size="6.4" fill="#3a2a2a" stroke="#3a2a2a" stroke-width="0.12">Nutrition,</text>
<text x="510" y="367.40000000000003" font-size="6.4" fill="#3a2a2a" stroke="#3a2a2a" stroke-width="0.12">Anemia</text>
<text x="510" y="374.0" font-size="6.4" fill="#3a2a2a" stroke="#3a2a2a" stroke-width="0.12">Stem Cell</text>
<polygon points="545.5,314.8 558.5,314.8 558.5,320.40000000000003 545.5,320.40000000000003 547.46,317.6" fill="#3f2a5a" />
<text x="552.98" y="319.168" font-size="4.5" fill="#fff" font-weight="bold" text-anchor="middle" >3</text>
<circle cx="563" cy="339.3" r="15.3" fill="#f7ece4" />
<circle cx="563" cy="339.3" r="14.7" fill="#3f2a5a" />
<text x="554" y="336.8" font-size="4.9" fill="#fff" >Third</text>
<text x="554" y="341.7" font-size="4.9" fill="#fff" >Most</text>
<text x="554" y="346.6" font-size="4.9" fill="#fff" >category</text>
<text x="552" y="360.8" font-size="6.4" fill="#3a2a2a" stroke="#3a2a2a" stroke-width="0.12">Morning</text>
<text x="552" y="367.40000000000003" font-size="6.4" fill="#3a2a2a" stroke="#3a2a2a" stroke-width="0.12">Sickness</text>
<text x="552" y="374.0" font-size="6.4" fill="#3a2a2a" stroke="#3a2a2a" stroke-width="0.12">&amp; Craving</text>
<text x="400.7" y="394.4" font-size="6.3" fill="#3a2a2a" textLength="181" lengthAdjust="spacingAndGlyphs" stroke="#3a2a2a" stroke-width="0.28">Social Media Research, Data Range - 01st -31st Jan 2014, Geography India.</text></svg>
</body></html>
